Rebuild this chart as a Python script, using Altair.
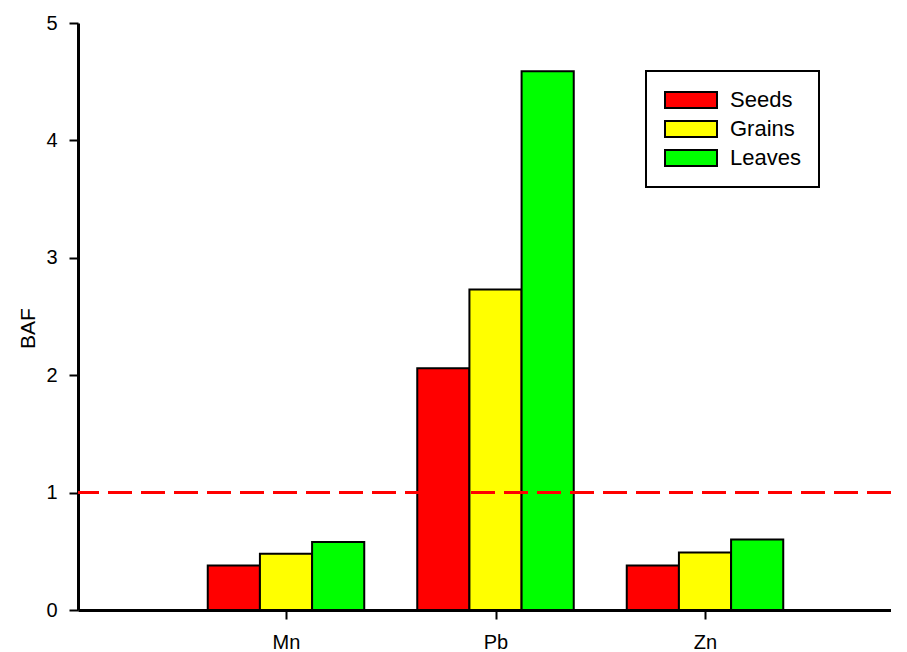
import altair as alt
import pandas as pd

categories = ["Mn", "Pb", "Zn"]
series = ["Seeds", "Grains", "Leaves"]
seeds = [0.38, 2.06, 0.38]
grains = [0.48, 2.73, 0.49]
leaves = [0.58, 4.59, 0.60]
threshold = [1.0]
colors = ["#FF0000", "#FFFF00", "#00FF00"]
y_ticks = [0, 1, 2, 3, 4, 5]

BAR_W = 0.249
values = {"Seeds": seeds, "Grains": grains, "Leaves": leaves}
rows = []
for i, cat in enumerate(categories):
    for j, s in enumerate(series):
        c = i + 1 + (j - 1) * BAR_W
        rows.append({"cat": cat, "series": s, "value": values[s][i], "base": 0.0,
                     "x0": c - BAR_W / 2, "x1": c + BAR_W / 2})
df = pd.DataFrame(rows)
thr = pd.DataFrame({"t": threshold})

FONT = "Liberation Sans"
label_expr = "[" + ",".join("'%s'" % c for c in categories) + "][datum.value - 1]"

xscale = alt.Scale(domain=[0.00716, 3.8878], nice=False, zero=False)
yscale = alt.Scale(domain=[0, 5], nice=False)

y_axis = alt.Axis(title="BAF", values=y_ticks, format="d", domainColor="black",
                  domainWidth=3, tickColor="black", tickWidth=2, tickSize=9,
                  labelPadding=12, labelFontSize=20, labelFont=FONT,
                  labelColor="black", titleFont=FONT, titleFontSize=21,
                  titleFontWeight="normal", titleColor="black", titlePadding=7,
                  titleY=305, grid=False)

bars = alt.Chart(df).mark_bar(stroke="black", strokeWidth=2, opacity=1).encode(
    x=alt.X("x0:Q", scale=xscale,
            axis=alt.Axis(title=None, values=[1, 2, 3], labelExpr=label_expr,
                          domainColor="black", domainWidth=3, tickColor="black",
                          tickWidth=2, tickSize=9, labelPadding=13, labelFontSize=20,
                          labelFont=FONT, labelColor="black", grid=False)),
    x2="x1:Q",
    y=alt.Y("value:Q", scale=yscale, axis=y_axis),
    y2="base:Q",
    color=alt.Color("series:N", sort=series,
                    scale=alt.Scale(domain=series, range=colors),
                    legend=alt.Legend(title=None, orient="none", legendX=568, legendY=48,
                                      direction="vertical",
                                      symbolType="M-1,-0.31H1V0.31H-1Z", symbolSize=2704,
                                      symbolStrokeColor="black", symbolStrokeWidth=2,
                                      symbolOpacity=1,
                                      labelFontSize=22, labelFont=FONT, labelColor="black",
                                      labelOffset=12, clipHeight=22, rowPadding=7,
                                      padding=18, strokeColor="black", fillColor="white",
                                      cornerRadius=0)),
)

rule = alt.Chart(thr).mark_rule(color="#FF0000", strokeWidth=3, strokeDash=[24, 9]).encode(
    y=alt.Y("t:Q", scale=yscale, axis=y_axis)
)

chart = alt.layer(bars, rule).properties(
    width=813, height=587,
    autosize=alt.AutoSizeParams(type="none"),
    padding={"left": 70, "top": 15, "right": 0, "bottom": 42},
    background="white",
).configure_view(stroke=None).configure_legend(strokeWidth=2)

chart.save("out.html", embed_options={"renderer": "svg", "actions": False})
